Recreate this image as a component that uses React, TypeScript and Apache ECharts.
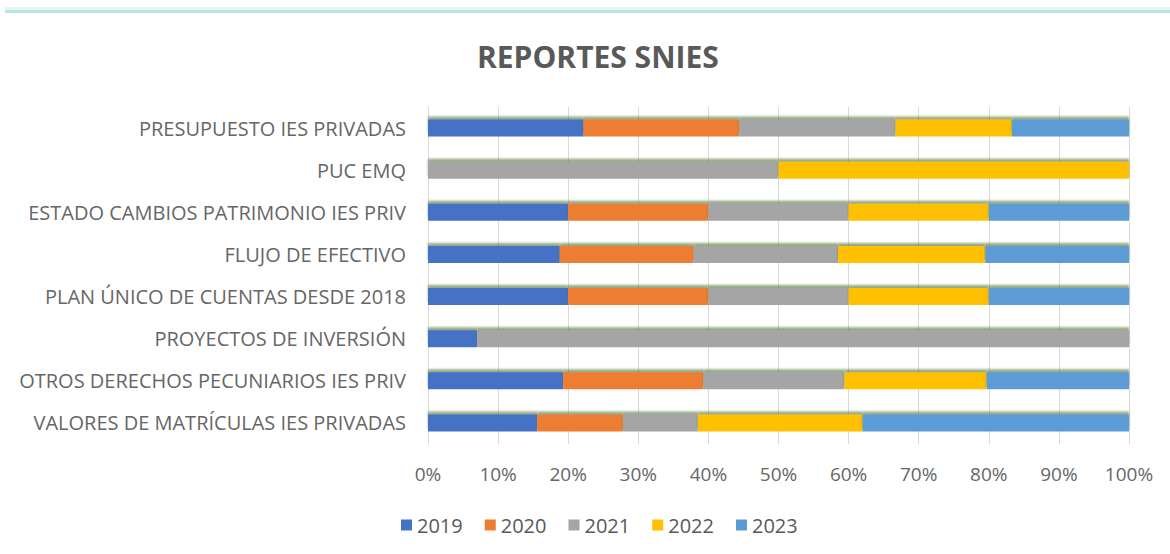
import React, { useEffect, useRef } from "react";
import * as echarts from "echarts";

const categories = [
  "VALORES DE MATRÍCULAS IES PRIVADAS",
  "OTROS DERECHOS PECUNIARIOS IES PRIV",
  "PROYECTOS DE INVERSIÓN",
  "PLAN ÚNICO DE CUENTAS DESDE 2018",
  "FLUJO DE EFECTIVO",
  "ESTADO CAMBIOS PATRIMONIO IES PRIV",
  "PUC EMQ",
  "PRESUPUESTO IES PRIVADAS",
];

const years = ["2019", "2020", "2021", "2022", "2023"];

const v2019 = [15.6, 19.3, 7, 20, 18.8, 20, 0, 22.2];
const v2020 = [12.2, 20, 0, 20, 19.1, 20, 0, 22.2];
const v2021 = [10.7, 20.1, 93, 20, 20.6, 20, 50, 22.3];
const v2022 = [23.5, 20.3, 0, 20, 21, 20, 50, 16.6];
const v2023 = [38, 20.3, 0, 20, 20.5, 20, 0, 16.7];

const seriesValues = [v2019, v2020, v2021, v2022, v2023];
const colors = ["#4472C4", "#ED7D31", "#A5A5A5", "#FFC000", "#5B9BD5"];

const xTicks = [0, 10, 20, 30, 40, 50, 60, 70, 80, 90, 100];

export default function App() {
  const ref = useRef<HTMLDivElement>(null);
  useEffect(() => {
    if (!ref.current) return;
    const chart = echarts.init(ref.current, null, { renderer: "svg" });
    const font = "'Open Sans', sans-serif";
    chart.setOption({
      animation: false,
      color: colors,
      title: {
        text: "REPORTES SNIES",
        left: 472,
        top: 36,
        textStyle: {
          fontFamily: font,
          fontSize: 30,
          fontWeight: "bold",
          color: "#595959",
        },
      },
      graphic: [
        {
          type: "rect",
          shape: { x: 5, y: 10, width: 1170, height: 3 },
          style: { fill: "#b5e6e6" },
        },
        {
          type: "rect",
          shape: { x: 5, y: 7, width: 1170, height: 3 },
          style: { fill: "#e6f6f7" },
        },
      ],
      legend: {
        data: years,
        top: 510,
        left: 396,
        itemWidth: 11,
        itemHeight: 11,
        itemGap: 22,
        icon: "rect",
        textStyle: { fontFamily: font, fontSize: 20, color: "#595959" },
      },
      grid: { left: 428, right: 41, top: 107, bottom: 110 },
      xAxis: {
        type: "value",
        min: 0,
        max: 100,
        interval: 10,
        axisLine: { show: false },
        axisTick: { show: false },
        splitLine: { lineStyle: { color: "#D9D9D9", width: 1 } },
        axisLabel: {
          formatter: (v: number) => (xTicks.includes(v) ? v + "%" : ""),
          fontFamily: font,
          fontSize: 19,
          color: "#666666",
          margin: 20,
        },
      },
      yAxis: {
        type: "category",
        data: categories,
        axisLine: { show: true, lineStyle: { color: "#D9D9D9" } },
        axisTick: { show: false },
        axisLabel: {
          fontFamily: font,
          fontSize: 20,
          color: "#666666",
          margin: 22,
        },
      },
      series: years.map((y, i) => ({
        name: y,
        type: "bar",
        stack: "total",
        barWidth: 17,
        data: seriesValues[i],
        itemStyle: {
          color: colors[i],
          shadowColor: "rgba(80,115,50,0.6)",
          shadowOffsetY: -3,
          shadowBlur: 2,
        },
      })),
    });
    return () => chart.dispose();
  }, []);
  return (
    <div
      ref={ref}
      style={{ width: 1170, height: 554, position: "absolute", left: 0, top: 0, background: "#fff" }}
    />
  );
}
